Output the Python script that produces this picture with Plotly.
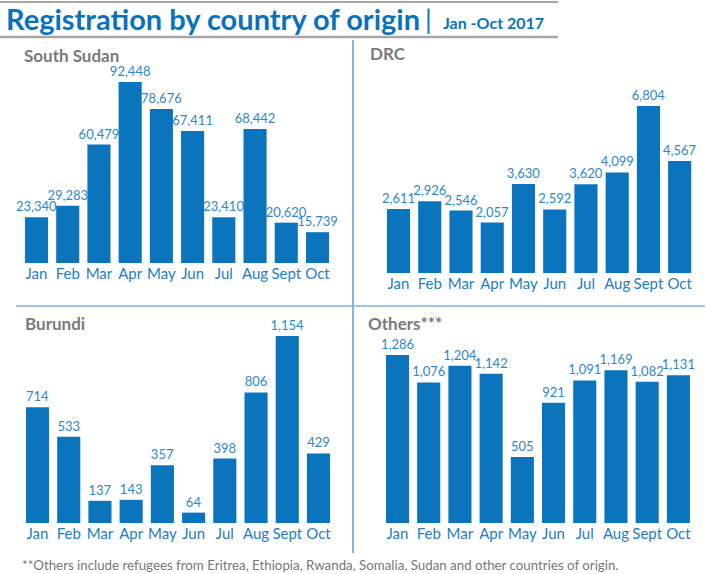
import plotly.graph_objects as go

months = ["Jan", "Feb", "Mar", "Apr", "May", "Jun", "Jul", "Aug", "Sept", "Oct"]
south_sudan = [23340, 29283, 60479, 92448, 78676, 67411, 23410, 68442, 20620, 15739]
drc = [2611, 2926, 2546, 2057, 3630, 2592, 3620, 4099, 6804, 4567]
burundi = [714, 533, 137, 143, 357, 64, 398, 806, 1154, 429]
others = [1286, 1076, 1204, 1142, 505, 921, 1091, 1169, 1082, 1131]

panel_titles = ["South Sudan", "DRC", "Burundi", "Others***"]
main_title = "Registration by country of origin"
sub_title = "Jan -Oct 2017"
footnote = "**Others include refugees from Eritrea, Ethiopia, Rwanda, Somalia, Sudan and other countries of origin."

W, H = 718, 574
BAR = "#0a74bc"
LBL = "#2f86c9"
TICK = "#1f7cc4"
GRAY = "#7a7a7a"
FONT = "Lato"

def px(x):
    return x / W

def py(y):
    return 1 - y / H

# panel geometry in pixels: x0, x1 (category domain), baseline y, top y (for max value)
panels = [
    (south_sudan, 20.9, 333.1, 263, 82),
    (drc, 382.9, 695.3, 273, 106),
    (burundi, 21.9, 334.1, 523, 336),
    (others, 381.9, 694.0, 523, 355),
]

fig = go.Figure()
for i, (vals, x0, x1, yb, yt) in enumerate(panels):
    n = "" if i == 0 else str(i + 1)
    fig.add_trace(go.Bar(
        x=months, y=vals, xaxis="x" + n, yaxis="y" + n,
        marker=dict(color=BAR, line=dict(width=0)),
        texttemplate="%{y:,}", textposition="outside",
        textfont=dict(family=FONT, size=13, color=LBL),
        constraintext="none", cliponaxis=False, showlegend=False,
        hoverinfo="x+y",
    ))
    fig.layout["xaxis" + n] = dict(
        domain=[px(x0), px(x1)], anchor="y" + n, showgrid=False, zeroline=False,
        showline=False, ticks="", tickfont=dict(family=FONT, size=15, color=TICK),
        fixedrange=True,
    )
    fig.layout["yaxis" + n] = dict(
        domain=[py(yb), py(yt)], anchor="x" + n, range=[0, max(vals)],
        visible=False, fixedrange=True,
    )

ann = []
ann.append(dict(text="<b>" + main_title + "</b>", x=px(4), y=py(19), xanchor="left", yanchor="middle",
                font=dict(family=FONT, size=29, color="#0a72ba")))
ann.append(dict(text="|", x=px(428), y=py(19), xanchor="center", yanchor="middle",
                font=dict(family=FONT, size=27, color="#0a72ba")))
ann.append(dict(text="<b>" + sub_title + "</b>", x=px(441), y=py(22), xanchor="left", yanchor="middle",
                font=dict(family=FONT, size=16, color="#0a72ba")))
title_pos = [(22, 56), (368, 53), (23, 323), (366, 323)]
for t, (x, y) in zip(panel_titles, title_pos):
    ann.append(dict(text="<b>" + t + "</b>", x=px(x), y=py(y), xanchor="left", yanchor="middle",
                    font=dict(family=FONT, size=17, color=GRAY)))
ann.append(dict(text=footnote, x=px(20), y=py(565), xanchor="left", yanchor="middle",
                font=dict(family=FONT, size=13.3, color="#777777")))
for a in ann:
    a.update(xref="paper", yref="paper", showarrow=False)

shapes = [
    dict(type="line", x0=px(0), x1=px(558), y0=py(2), y1=py(2), line=dict(color="#8c8c8c", width=1.5)),
    dict(type="line", x0=px(0), x1=px(558), y0=py(37), y1=py(37), line=dict(color="#a6a6a6", width=2.5)),
    dict(type="line", x0=px(353), x1=px(353), y0=py(40), y1=py(553), line=dict(color="#5b9bd5", width=1.5)),
    dict(type="line", x0=px(16), x1=px(705), y0=py(306), y1=py(306), line=dict(color="#7fb1de", width=1.5)),
]
for s in shapes:
    s.update(xref="paper", yref="paper")

fig.update_layout(
    width=W, height=H, margin=dict(l=0, r=0, t=0, b=0),
    paper_bgcolor="white", plot_bgcolor="white",
    bargap=0.26, annotations=ann, shapes=shapes,
    font=dict(family=FONT),
)
fig.write_html(
    "out.html",
    config={"displayModeBar": False},
    post_script="document.body.style.margin='0';document.body.style.overflow='hidden';",
)
